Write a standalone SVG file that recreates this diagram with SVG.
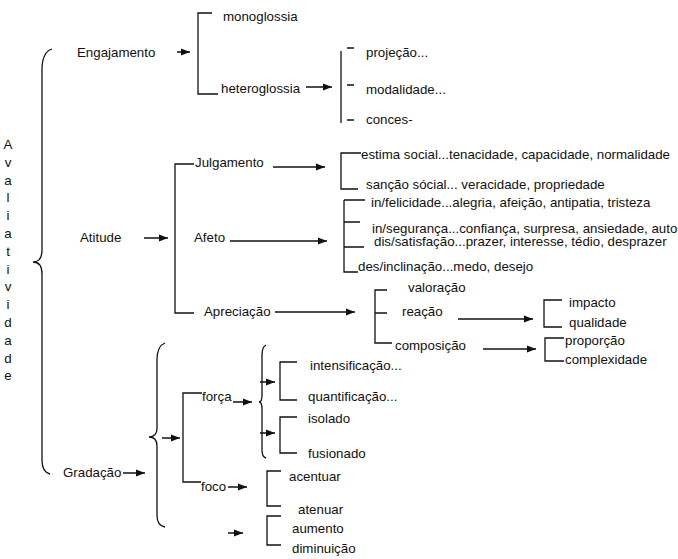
<svg xmlns="http://www.w3.org/2000/svg" width="678" height="559" viewBox="0 0 678 559">
<defs>
<style>
text{font-family:"Liberation Sans",Arial,sans-serif;font-size:13.3px;fill:#111}
.ln{stroke:#111;stroke-width:1.3;fill:none}
.ar{stroke:#111;stroke-width:1.5;fill:none;marker-end:url(#ah)}
</style>
<marker id="ah" markerUnits="userSpaceOnUse" markerWidth="10" markerHeight="8" refX="9" refY="4" orient="auto"><path d="M0,0.5 L9,4 L0,7.5 z" fill="#111"/></marker>
</defs>
<rect width="678" height="559" fill="#fff"/>

<g id="avaliatividade">
<text x="8" y="149" text-anchor="middle">A</text>
<text x="8" y="167" text-anchor="middle">v</text>
<text x="8" y="185" text-anchor="middle">a</text>
<text x="8" y="202" text-anchor="middle">l</text>
<text x="8" y="220" text-anchor="middle">i</text>
<text x="8" y="238" text-anchor="middle">a</text>
<text x="8" y="256" text-anchor="middle">t</text>
<text x="8" y="274" text-anchor="middle">i</text>
<text x="8" y="291" text-anchor="middle">v</text>
<text x="8" y="309" text-anchor="middle">i</text>
<text x="8" y="327" text-anchor="middle">d</text>
<text x="8" y="345" text-anchor="middle">a</text>
<text x="8" y="363" text-anchor="middle">d</text>
<text x="8" y="380" text-anchor="middle">e</text>
</g>

<g id="braces">
<path class="ln" d="M52,49 Q42,52 42,70 L42,250 Q42,262 33,262 Q42,262 42,274 L42,460 Q42,472 50,474"/>
<path class="ln" d="M165,343 Q157,346 157,360 L157,428 Q157,437 149,437 Q157,437 157,446 L157,515 Q157,526 165,527"/>
<path class="ln" d="M266,345 Q262,347 262,355 L262,395 Q262,402 259,402 Q262,402 262,409 L262,450 Q262,457 266,458"/>
</g>

<g id="engajamento"><text x="77" y="57">Engajamento</text></g>
<g id="monoglossia"><text x="223" y="21">monoglossia</text></g>
<g id="heteroglossia"><text x="221" y="93">heteroglossia</text></g>
<g id="projecao"><text x="366" y="57">projeção...</text></g>
<g id="modalidade"><text x="366" y="94">modalidade...</text></g>
<g id="conces"><text x="366" y="124">conces-</text></g>

<g id="atitude"><text x="80" y="242">Atitude</text></g>
<g id="julgamento"><text x="195" y="167">Julgamento</text></g>
<g id="afeto"><text x="194" y="242">Afeto</text></g>
<g id="apreciacao"><text x="204" y="316">Apreciação</text></g>
<g id="estima"><text x="361" y="159">estima social...tenacidade, capacidade, normalidade</text></g>
<g id="sancao"><text x="366" y="189">sanção sócial... veracidade, propriedade</text></g>
<g id="felicidade"><text x="371" y="207">in/felicidade...alegria, afeição, antipatia, tristeza</text></g>
<g id="seguranca"><text x="372" y="233">in/segurança...confiança, surpresa, ansiedade, auto</text></g>
<g id="satisfacao"><text x="374" y="246">dis/satisfação...prazer, interesse, tédio, desprazer</text></g>
<g id="inclinacao"><text x="358" y="271">des/inclinação...medo, desejo</text></g>
<g id="valoracao"><text x="408" y="292">valoração</text></g>
<g id="reacao"><text x="402" y="316">reação</text></g>
<g id="composicao"><text x="395" y="350">composição</text></g>
<g id="impacto"><text x="569" y="307">impacto</text></g>
<g id="qualidade"><text x="569" y="327">qualidade</text></g>
<g id="proporcao"><text x="565" y="345">proporção</text></g>
<g id="complexidade"><text x="565" y="364">complexidade</text></g>

<g id="gradacao"><text x="63" y="477">Gradação</text></g>
<g id="forca"><text x="202" y="401">força</text></g>
<g id="foco"><text x="201" y="491">foco</text></g>
<g id="intensificacao"><text x="310" y="370">intensificação...</text></g>
<g id="quantificacao"><text x="308" y="401">quantificação...</text></g>
<g id="isolado"><text x="308" y="423">isolado</text></g>
<g id="fusionado"><text x="308" y="458">fusionado</text></g>
<g id="acentuar"><text x="289" y="481">acentuar</text></g>
<g id="atenuar"><text x="298" y="514">atenuar</text></g>
<g id="aumento"><text x="292" y="533">aumento</text></g>
<g id="diminuicao"><text x="292" y="553">diminuição</text></g>

<g id="connectors">
<path class="ln" d="M212,13 H198 V94 H218"/>
<path class="ln" d="M341,51 V123"/>
<path class="ln" d="M347,48 H354 M347,85 H354 M347,120 H354"/>
<path class="ln" d="M194,164 H175 V313 H194"/>
<path class="ln" d="M361,153 H341 V189 H358"/>
<path class="ln" d="M344,200 V272 H358 M344,200 H365 M344,222 H360 M344,247 H364"/>
<path class="ln" d="M387,290 H375 V343 H392 M375,313 H387"/>
<path class="ln" d="M562,300 H544 V327 H562"/>
<path class="ln" d="M564,338 H545 V361 H564"/>
<path class="ln" d="M202,393 H183 V482 H201"/>
<path class="ln" d="M297,362 H280 V400 H297"/>
<path class="ln" d="M297,417 H280 V453 H297"/>
<path class="ln" d="M281,471 H267 V506 H281"/>
<path class="ln" d="M281,516 H267 V545 H281"/>
<path class="ar" d="M177,52 H190"/>
<path class="ar" d="M306,87 H332"/>
<path class="ar" d="M144,238 H168"/>
<path class="ar" d="M273,167 H325"/>
<path class="ar" d="M230,241 H327"/>
<path class="ar" d="M275,312 H355"/>
<path class="ar" d="M458,319 H533"/>
<path class="ar" d="M483,349 H536"/>
<path class="ar" d="M123,473 H145"/>
<path class="ar" d="M162,438 H180"/>
<path class="ar" d="M233,402 H252"/>
<path class="ar" d="M228,487 H247"/>
<path class="ar" d="M260,382 H275"/>
<path class="ar" d="M260,433 H275"/>
<path class="ar" d="M228,533 H243"/>
</g>
</svg>
